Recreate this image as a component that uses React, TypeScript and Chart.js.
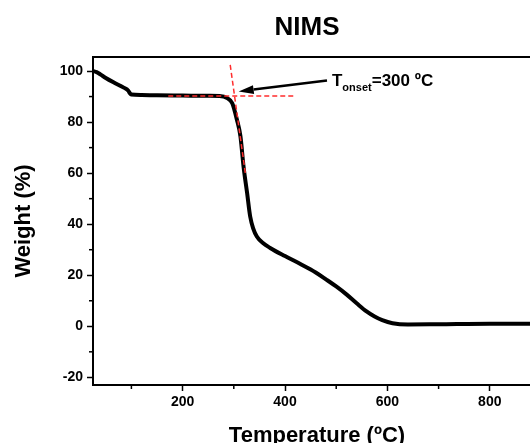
import React, { useEffect, useRef } from "react";
import { Chart, registerables } from "chart.js";

Chart.register(...registerables);

// ---- Data ----
const temperatures = [25, 32, 40, 50, 65, 85, 94, 97, 100, 120, 150, 200, 250, 272, 287, 297, 306, 313, 319, 326, 332, 338, 345, 357, 371, 400, 430, 460, 480, 500, 520, 540, 560, 575, 590, 610, 640, 700, 800, 900];
const weights = [100, 99.6, 98.6, 97.3, 95.6, 93.5, 92.3, 91.3, 90.8, 90.6, 90.5, 90.4, 90.3, 90.2, 89.4, 87.4, 81, 74.4, 62.6, 52.2, 43, 38.3, 35.2, 32.6, 30.7, 27.5, 24.4, 21.1, 18.4, 15.6, 12.5, 9, 5.7, 3.8, 2.4, 1.2, 0.7, 0.8, 1.0, 1.0];

const baselineTangentX = [172, 420];
const baselineTangentY = [90.2, 90.2];
const slopeTangentX = [293, 322.5];
const slopeTangentY = [102.4, 60];

const arrowX = [482, 309.5]; // tail, tip
const arrowY = [96.3, 92];

const chartTitle = "NIMS";
const xAxisTitle = "Temperature (ºC)";
const yAxisTitle = "Weight (%)";
const onsetMain = "T";
const onsetSub = "onset";
const onsetValue = "=300 ºC";

const xMin = 25;
const xMax = 900;
const yMin = -23;
const yMax = 105.5;

const FONT = "'Liberation Sans', Arial, Helvetica, sans-serif";
const RED = "rgb(255,45,45)";

const toPoints = (xs: number[], ys: number[]) => xs.map((x, i) => ({ x, y: ys[i] }));

const decorPlugin = {
  id: "decor",
  afterDatasetsDraw(chart: any) {
    const { ctx, chartArea, scales } = chart;
    const x = scales.x;
    const y = scales.y;
    ctx.save();
    // frame
    ctx.strokeStyle = "#000";
    ctx.lineWidth = 2;
    ctx.strokeRect(chartArea.left, chartArea.top, chartArea.right - chartArea.left, chartArea.bottom - chartArea.top);

    // minor ticks
    ctx.lineWidth = 1.5;
    x.ticks.forEach((t: any) => {
      if (Math.round(t.value) % 200 !== 0) {
        const px = x.getPixelForValue(t.value);
        ctx.beginPath();
        ctx.moveTo(px, chartArea.bottom);
        ctx.lineTo(px, chartArea.bottom + 4);
        ctx.stroke();
      }
    });
    y.ticks.forEach((t: any) => {
      if (Math.round(t.value) % 20 !== 0) {
        const py = y.getPixelForValue(t.value);
        ctx.beginPath();
        ctx.moveTo(chartArea.left - 4, py);
        ctx.lineTo(chartArea.left, py);
        ctx.stroke();
      }
    });

    // arrow
    const tx = x.getPixelForValue(arrowX[0]);
    const ty = y.getPixelForValue(arrowY[0]);
    const hx = x.getPixelForValue(arrowX[1]);
    const hy = y.getPixelForValue(arrowY[1]);
    const ang = Math.atan2(hy - ty, hx - tx);
    const headLen = 15;
    const headHalf = 4.5;
    const bx = hx - headLen * Math.cos(ang);
    const by = hy - headLen * Math.sin(ang);
    ctx.strokeStyle = "#000";
    ctx.lineWidth = 2.5;
    ctx.beginPath();
    ctx.moveTo(tx, ty);
    ctx.lineTo(bx, by);
    ctx.stroke();
    ctx.fillStyle = "#000";
    ctx.beginPath();
    ctx.moveTo(hx, hy);
    ctx.lineTo(bx + headHalf * Math.sin(ang), by - headHalf * Math.cos(ang));
    ctx.lineTo(bx - headHalf * Math.sin(ang), by + headHalf * Math.cos(ang));
    ctx.closePath();
    ctx.fill();

    // onset label
    let lx = tx + 5;
    const lb = ty + 6;
    ctx.textBaseline = "alphabetic";
    ctx.textAlign = "left";
    ctx.font = `bold 17px ${FONT}`;
    ctx.fillText(onsetMain, lx, lb);
    lx += ctx.measureText(onsetMain).width;
    ctx.font = `bold 11px ${FONT}`;
    ctx.fillText(onsetSub, lx, lb + 5);
    lx += ctx.measureText(onsetSub).width;
    ctx.font = `bold 17px ${FONT}`;
    ctx.fillText(onsetValue, lx, lb);

    // title
    ctx.font = `bold 26px ${FONT}`;
    ctx.textAlign = "center";
    ctx.fillText(chartTitle, (chartArea.left + chartArea.right) / 2 - 10, chartArea.top - 22);
    ctx.restore();
  },
};

export default function App() {
  const canvasRef = useRef<HTMLCanvasElement | null>(null);

  useEffect(() => {
    if (!canvasRef.current) return;
    const tickFont = { family: FONT, size: 14, weight: "bold" as const };
    const chart = new Chart(canvasRef.current, {
      type: "line",
      data: {
        datasets: [
          {
            data: toPoints(baselineTangentX, baselineTangentY),
            borderColor: RED,
            borderWidth: 1.5,
            borderDash: [5, 3],
            pointRadius: 0,
            fill: false,
          },
          {
            data: toPoints(slopeTangentX, slopeTangentY),
            borderColor: RED,
            borderWidth: 1.5,
            borderDash: [5, 3],
            pointRadius: 0,
            fill: false,
          },
          {
            data: toPoints(temperatures, weights),
            borderColor: "#000",
            borderWidth: 4,
            pointRadius: 0,
            cubicInterpolationMode: "monotone",
            fill: false,
          },
        ],
      },
      options: {
        animation: false,
        responsive: false,
        devicePixelRatio: 1,
        layout: { padding: { top: 57, left: 0, right: 19, bottom: 0 } },
        plugins: { legend: { display: false }, tooltip: { enabled: false }, title: { display: false } },
        scales: {
          x: {
            type: "linear",
            min: xMin,
            max: xMax,
            afterFit: (s: any) => {
              s.height = 75;
            },
            border: { display: true, color: "#000", width: 2 },
            grid: {
              display: true,
              drawOnChartArea: false,
              drawTicks: true,
              tickLength: 6,
              tickWidth: 1.5,
              tickColor: (c: any) => (c.tick && Math.round(c.tick.value) % 200 === 0 ? "#000" : "rgba(0,0,0,0)"),
            },
            ticks: {
              stepSize: 100,
              includeBounds: false,
              color: "#000",
              font: tickFont,
              padding: 3,
              maxRotation: 0,
              autoSkip: false,
              callback: (v: any) => (Math.round(v) % 200 === 0 ? String(Math.round(v)) : ""),
            },
            title: {
              display: true,
              text: xAxisTitle,
              color: "#000",
              font: { family: FONT, size: 22, weight: "bold" },
              padding: { top: 0, bottom: 11 },
            },
          },
          y: {
            type: "linear",
            min: yMin,
            max: yMax,
            afterFit: (s: any) => {
              s.width = 93;
            },
            border: { display: true, color: "#000", width: 2 },
            grid: {
              display: true,
              drawOnChartArea: false,
              drawTicks: true,
              tickLength: 6,
              tickWidth: 1.5,
              tickColor: (c: any) => (c.tick && Math.round(c.tick.value) % 20 === 0 ? "#000" : "rgba(0,0,0,0)"),
            },
            ticks: {
              stepSize: 10,
              includeBounds: false,
              color: "#000",
              font: tickFont,
              padding: 4,
              autoSkip: false,
              callback: (v: any) => (Math.round(v) % 20 === 0 ? String(Math.round(v)) : ""),
            },
            title: {
              display: true,
              text: yAxisTitle,
              color: "#000",
              font: { family: FONT, size: 22, weight: "bold" },
              padding: { top: 11, bottom: 0 },
            },
          },
        },
      },
      plugins: [decorPlugin],
    });
    return () => chart.destroy();
  }, []);

  return (
    <div
      style={{
        position: "fixed",
        left: 0,
        top: 0,
        width: 530,
        height: 443,
        overflow: "hidden",
        background: "#fff",
      }}
    >
      <canvas ref={canvasRef} width={560} height={460} style={{ display: "block", width: 560, height: 460 }} />
    </div>
  );
}
